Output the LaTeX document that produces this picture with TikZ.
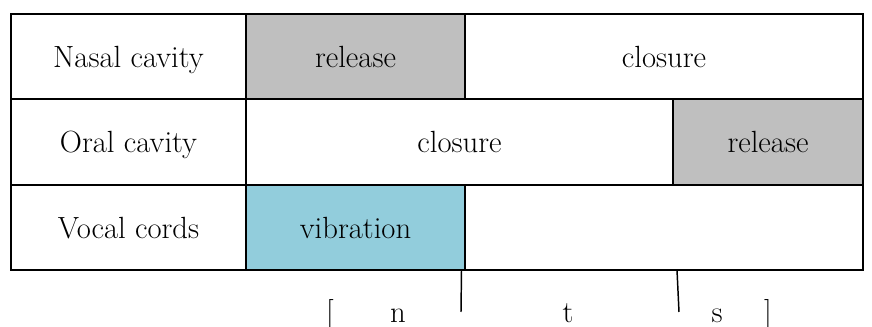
\documentclass[tikz,border=0pt]{standalone}
\usepackage{fontspec}
\setmainfont{Latin Modern Roman}
\begin{document}
\begin{tikzpicture}[x=0.75pt,y=-0.75pt,
  txt/.style={font=\fontsize{23}{27}\selectfont},
  cell/.style={txt,draw=black,line width=1.5pt,rectangle,anchor=north west,
    inner sep=0pt,minimum height=85.5*0.75pt,
    text height=18pt,text depth=2pt},
  grey/.style={fill=gray!50},
  blue/.style={fill={rgb,255:red,146;green,205;blue,220}},
  tick/.style={line width=1.1pt},
  seg/.style={txt,anchor=base}]
\useasboundingbox (0,0) rectangle (872,327);
% row 1: nasal cavity
\node[cell,minimum width=235*0.75pt] (nasal) at (10,13) {Nasal cavity};
\node[cell,grey,minimum width=219*0.75pt] (nrel) at (245,13) {release};
\node[cell,minimum width=398*0.75pt] (nclo) at (464,13) {closure};
% row 2: oral cavity
\node[cell,minimum width=235*0.75pt] (oral) at (10,98.5) {Oral cavity};
\node[cell,minimum width=427*0.75pt] (oclo) at (245,98.5) {closure};
\node[cell,grey,minimum width=190*0.75pt] (orel) at (672,98.5) {release};
% row 3: vocal cords
\node[cell,minimum width=235*0.75pt] (vocal) at (10,184) {Vocal cords};
\node[cell,blue,minimum width=219*0.75pt] (vib) at (245,184) {vibration};
\node[cell,minimum width=398*0.75pt] (vrest) at (464,184) {};
% segment boundaries
\coordinate (t1a) at (461.5,270);
\coordinate (t1b) at (461,312);
\coordinate (t2a) at (677,270);
\coordinate (t2b) at (679,312);
\draw[tick] (t1a) -- (t1b);
\draw[tick] (t2a) -- (t2b);
% transcription
\node[seg] (lb) at (330,323) {[};
\node[seg] (n) at (398,323) {n};
\node[seg] (t) at (568,323) {t};
\node[seg] (s) at (717,323) {s};
\node[seg] (rb) at (768,323) {]};
\end{tikzpicture}
\end{document}
